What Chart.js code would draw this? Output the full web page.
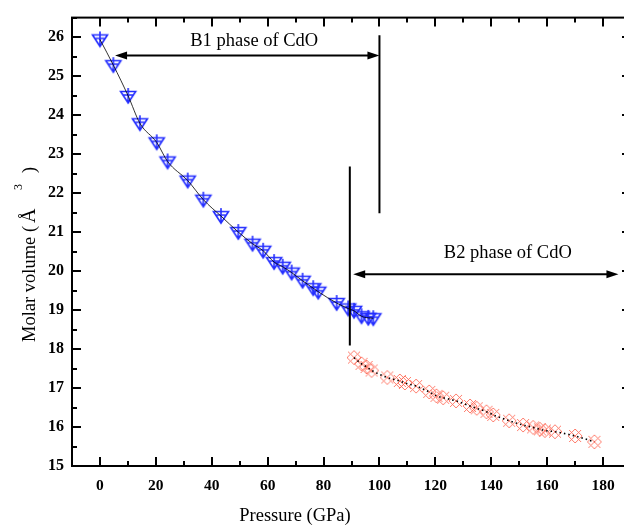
<!DOCTYPE html>
<html>
<head>
<meta charset="utf-8">
<script src="https://cdn.jsdelivr.net/npm/chart.js@4/dist/chart.umd.min.js"></script>
<style>
  html, body { margin: 0; padding: 0; background: #fff; overflow: hidden; }
  #wrap { width: 640px; height: 527px; }
</style>
</head>
<body>
<div id="wrap"><canvas id="myChart" width="640" height="527"></canvas></div>
<script>
// B1 (rock-salt) phase: pressure in GPa, molar volume in A^3
var b1Pressure = [0, 4.8, 10.1, 14.3, 20.3, 24.2, 31.4, 37, 43.3, 49.5, 54.6, 58.4, 62.3, 65.4, 68.6, 72.5, 76.3, 78.1, 84.7, 88.8, 90.9, 93.6, 96, 97.8];
var b1Volume = [25.94, 25.28, 24.49, 23.79, 23.30, 22.81, 22.32, 21.83, 21.41, 21.0, 20.70, 20.52, 20.23, 20.11, 19.96, 19.75, 19.56, 19.47, 19.18, 19.04, 18.98, 18.84, 18.80, 18.79];

// B2 (CsCl) phase
var b2Pressure = [90.9, 93.6, 95.4, 97.2, 102.8, 107.3, 109.1, 113.1, 117.8, 120.4, 122.8, 127.4, 132.4, 134.8, 138.3, 140.7, 146.4, 151.4, 155, 157.4, 159.2, 162.8, 170, 176.9];
var b2Volume = [17.78, 17.62, 17.54, 17.45, 17.27, 17.18, 17.13, 17.05, 16.90, 16.80, 16.75, 16.67, 16.54, 16.48, 16.39, 16.31, 16.16, 16.05, 15.99, 15.94, 15.91, 15.88, 15.77, 15.62];

var xTicks = [0, 20, 40, 60, 80, 100, 120, 140, 160, 180];
var yTicks = [15, 16, 17, 18, 19, 20, 21, 22, 23, 24, 25, 26];

// phase boundaries and ranges (GPa / A^3)
var b1Range = [5.4, 100];
var b1ArrowY = 25.53;
var b1Boundary = [100, 21.48, 26.05];
var b2Range = [90.6, 185.5];
var b2ArrowY = 19.92;
var b2Boundary = [89.4, 18.09, 22.68];

var SERIF = "'Liberation Serif', 'Times New Roman', serif";

function toXY(xs, ys) {
    var out = [];
    for (var i = 0; i < xs.length; i++) out.push({x: xs[i], y: ys[i]});
    return out;
}

// down triangle with a cross
function makeTriMarker() {
    var c = document.createElement('canvas');
    c.width = 20; c.height = 20;
    var g = c.getContext('2d');
    g.translate(10, 10);
    g.strokeStyle = 'rgb(35,45,255)';
    g.lineWidth = 1.6;
    g.beginPath();
    g.moveTo(-7.5, -4.5); g.lineTo(7.5, -4.5); g.lineTo(0, 7); g.closePath();
    g.moveTo(0, -8); g.lineTo(0, 7);
    g.moveTo(-5, -1); g.lineTo(5, -1);
    g.stroke();
    return c;
}

// crossed diamond
function makeDiaMarker() {
    var c = document.createElement('canvas');
    c.width = 18; c.height = 18;
    var g = c.getContext('2d');
    g.translate(9, 9);
    g.strokeStyle = 'rgba(255,100,80,0.85)';
    g.lineWidth = 1;
    g.beginPath();
    g.moveTo(0, -7); g.lineTo(7, 0); g.lineTo(0, 7); g.lineTo(-7, 0); g.closePath();
    g.moveTo(-6, -6); g.lineTo(6, 6);
    g.moveTo(-6, 6); g.lineTo(6, -6);
    g.stroke();
    return c;
}

function arrowHead(ctx, x, y, dir) {
    ctx.beginPath();
    ctx.moveTo(x, y);
    ctx.lineTo(x - dir * 12, y - 4);
    ctx.lineTo(x - dir * 12, y + 4);
    ctx.closePath();
    ctx.fill();
}

var framePlugin = {
    id: 'frame',
    afterDatasetsDraw: function(chart) {
        var ctx = chart.ctx, a = chart.chartArea;
        var xs = chart.scales.x, ys = chart.scales.y;
        ctx.save();
        ctx.strokeStyle = '#000';
        ctx.fillStyle = '#000';
        ctx.lineWidth = 2;
        ctx.strokeRect(a.left, a.top, a.right - a.left, a.bottom - a.top);

        // ticks point inward on all four sides
        ctx.beginPath();
        for (var v = 0; v <= 180; v += 10) {
            var px = Math.round(xs.getPixelForValue(v));
            var len = (v % 20 === 0) ? 9 : 5;
            ctx.moveTo(px, a.bottom); ctx.lineTo(px, a.bottom - len);
            ctx.moveTo(px, a.top); ctx.lineTo(px, a.top + len);
        }
        for (var w = 15.5; w <= 26.5; w += 0.5) {
            var py = Math.round(ys.getPixelForValue(w));
            var l2 = (w % 1 === 0) ? 9 : 5;
            ctx.moveTo(a.left, py); ctx.lineTo(a.left + l2, py);
            ctx.moveTo(a.right, py); ctx.lineTo(a.right - l2, py);
        }
        ctx.stroke();

        // phase boundaries
        ctx.beginPath();
        var bx1 = xs.getPixelForValue(b1Boundary[0]);
        ctx.moveTo(bx1, ys.getPixelForValue(b1Boundary[1]));
        ctx.lineTo(bx1, ys.getPixelForValue(b1Boundary[2]));
        var bx2 = xs.getPixelForValue(b2Boundary[0]);
        ctx.moveTo(bx2, ys.getPixelForValue(b2Boundary[1]));
        ctx.lineTo(bx2, ys.getPixelForValue(b2Boundary[2]));
        ctx.stroke();

        // range arrows
        var y1 = ys.getPixelForValue(b1ArrowY);
        var l1 = xs.getPixelForValue(b1Range[0]), r1 = xs.getPixelForValue(b1Range[1]);
        ctx.beginPath(); ctx.moveTo(l1 + 6, y1); ctx.lineTo(r1 - 6, y1); ctx.stroke();
        arrowHead(ctx, l1, y1, -1); arrowHead(ctx, r1, y1, 1);
        var y2 = ys.getPixelForValue(b2ArrowY);
        var l2b = xs.getPixelForValue(b2Range[0]), r2 = xs.getPixelForValue(b2Range[1]);
        ctx.beginPath(); ctx.moveTo(l2b + 6, y2); ctx.lineTo(r2 - 6, y2); ctx.stroke();
        arrowHead(ctx, l2b, y2, -1); arrowHead(ctx, r2, y2, 1);

        ctx.font = '18.5px ' + SERIF;
        ctx.textAlign = 'center';
        ctx.textBaseline = 'alphabetic';
        ctx.fillText('B1 phase of CdO', (l1 + r1) / 2 + 7, y1 - 9);
        ctx.fillText('B2 phase of CdO', (l2b + r2) / 2 + 22, y2 - 16);

        // axis titles
        ctx.fillText('Pressure (GPa)', 295, 521);

        ctx.translate(35, 342);
        ctx.rotate(-Math.PI / 2);
        ctx.textAlign = 'left';
        var head = 'Molar volume (';
        ctx.fillText(head, 0, 0);
        var wHead = ctx.measureText(head).width;
        ctx.font = '20px ' + SERIF;
        ctx.fillText('\u00c5', wHead + 3, 0);
        ctx.font = '12px ' + SERIF;
        ctx.fillText('3', 152, -13);
        ctx.font = '18.5px ' + SERIF;
        ctx.fillText(')', 169, 0);
        ctx.restore();
    }
};

new Chart('myChart', {
    type: 'scatter',
    data: {
        datasets: [{
            data: toXY(b1Pressure, b1Volume),
            showLine: true,
            borderColor: 'rgba(0,0,0,0.8)',
            borderWidth: 1,
            pointRadius: 0,
            cubicInterpolationMode: 'monotone'
        }, {
            data: toXY(b2Pressure, b2Volume),
            showLine: true,
            borderColor: '#000',
            borderWidth: 1.6,
            borderDash: [1.5, 3],
            pointRadius: 0,
            cubicInterpolationMode: 'monotone'
        }, {
            data: toXY(b1Pressure, b1Volume),
            pointStyle: makeTriMarker(),
            pointRadius: 8
        }, {
            data: toXY(b2Pressure, b2Volume),
            pointStyle: makeDiaMarker(),
            pointRadius: 7
        }]
    },
    options: {
        responsive: false,
        animation: false,
        devicePixelRatio: 1,
        layout: {padding: {top: 14, right: 9, left: 0, bottom: 0}},
        plugins: {legend: {display: false}, tooltip: {enabled: false}},
        scales: {
            x: {
                type: 'linear', min: -10, max: 190,
                grid: {display: false, drawTicks: false},
                border: {display: false},
                afterBuildTicks: function(s) { s.ticks = xTicks.map(function(v) { return {value: v}; }); },
                afterFit: function(s) { s.height = 61; },
                ticks: {color: '#000', padding: 11, maxRotation: 0, font: {family: SERIF, size: 15.5, weight: 'bold'}}
            },
            y: {
                type: 'linear', min: 15, max: 26.5,
                grid: {display: false, drawTicks: false},
                border: {display: false},
                afterBuildTicks: function(s) { s.ticks = yTicks.map(function(v) { return {value: v}; }); },
                afterFit: function(s) { s.width = 72; },
                ticks: {color: '#000', padding: 8, font: {family: SERIF, size: 16, weight: 'bold'}}
            }
        }
    },
    plugins: [framePlugin]
});
</script>
</body>
</html>
